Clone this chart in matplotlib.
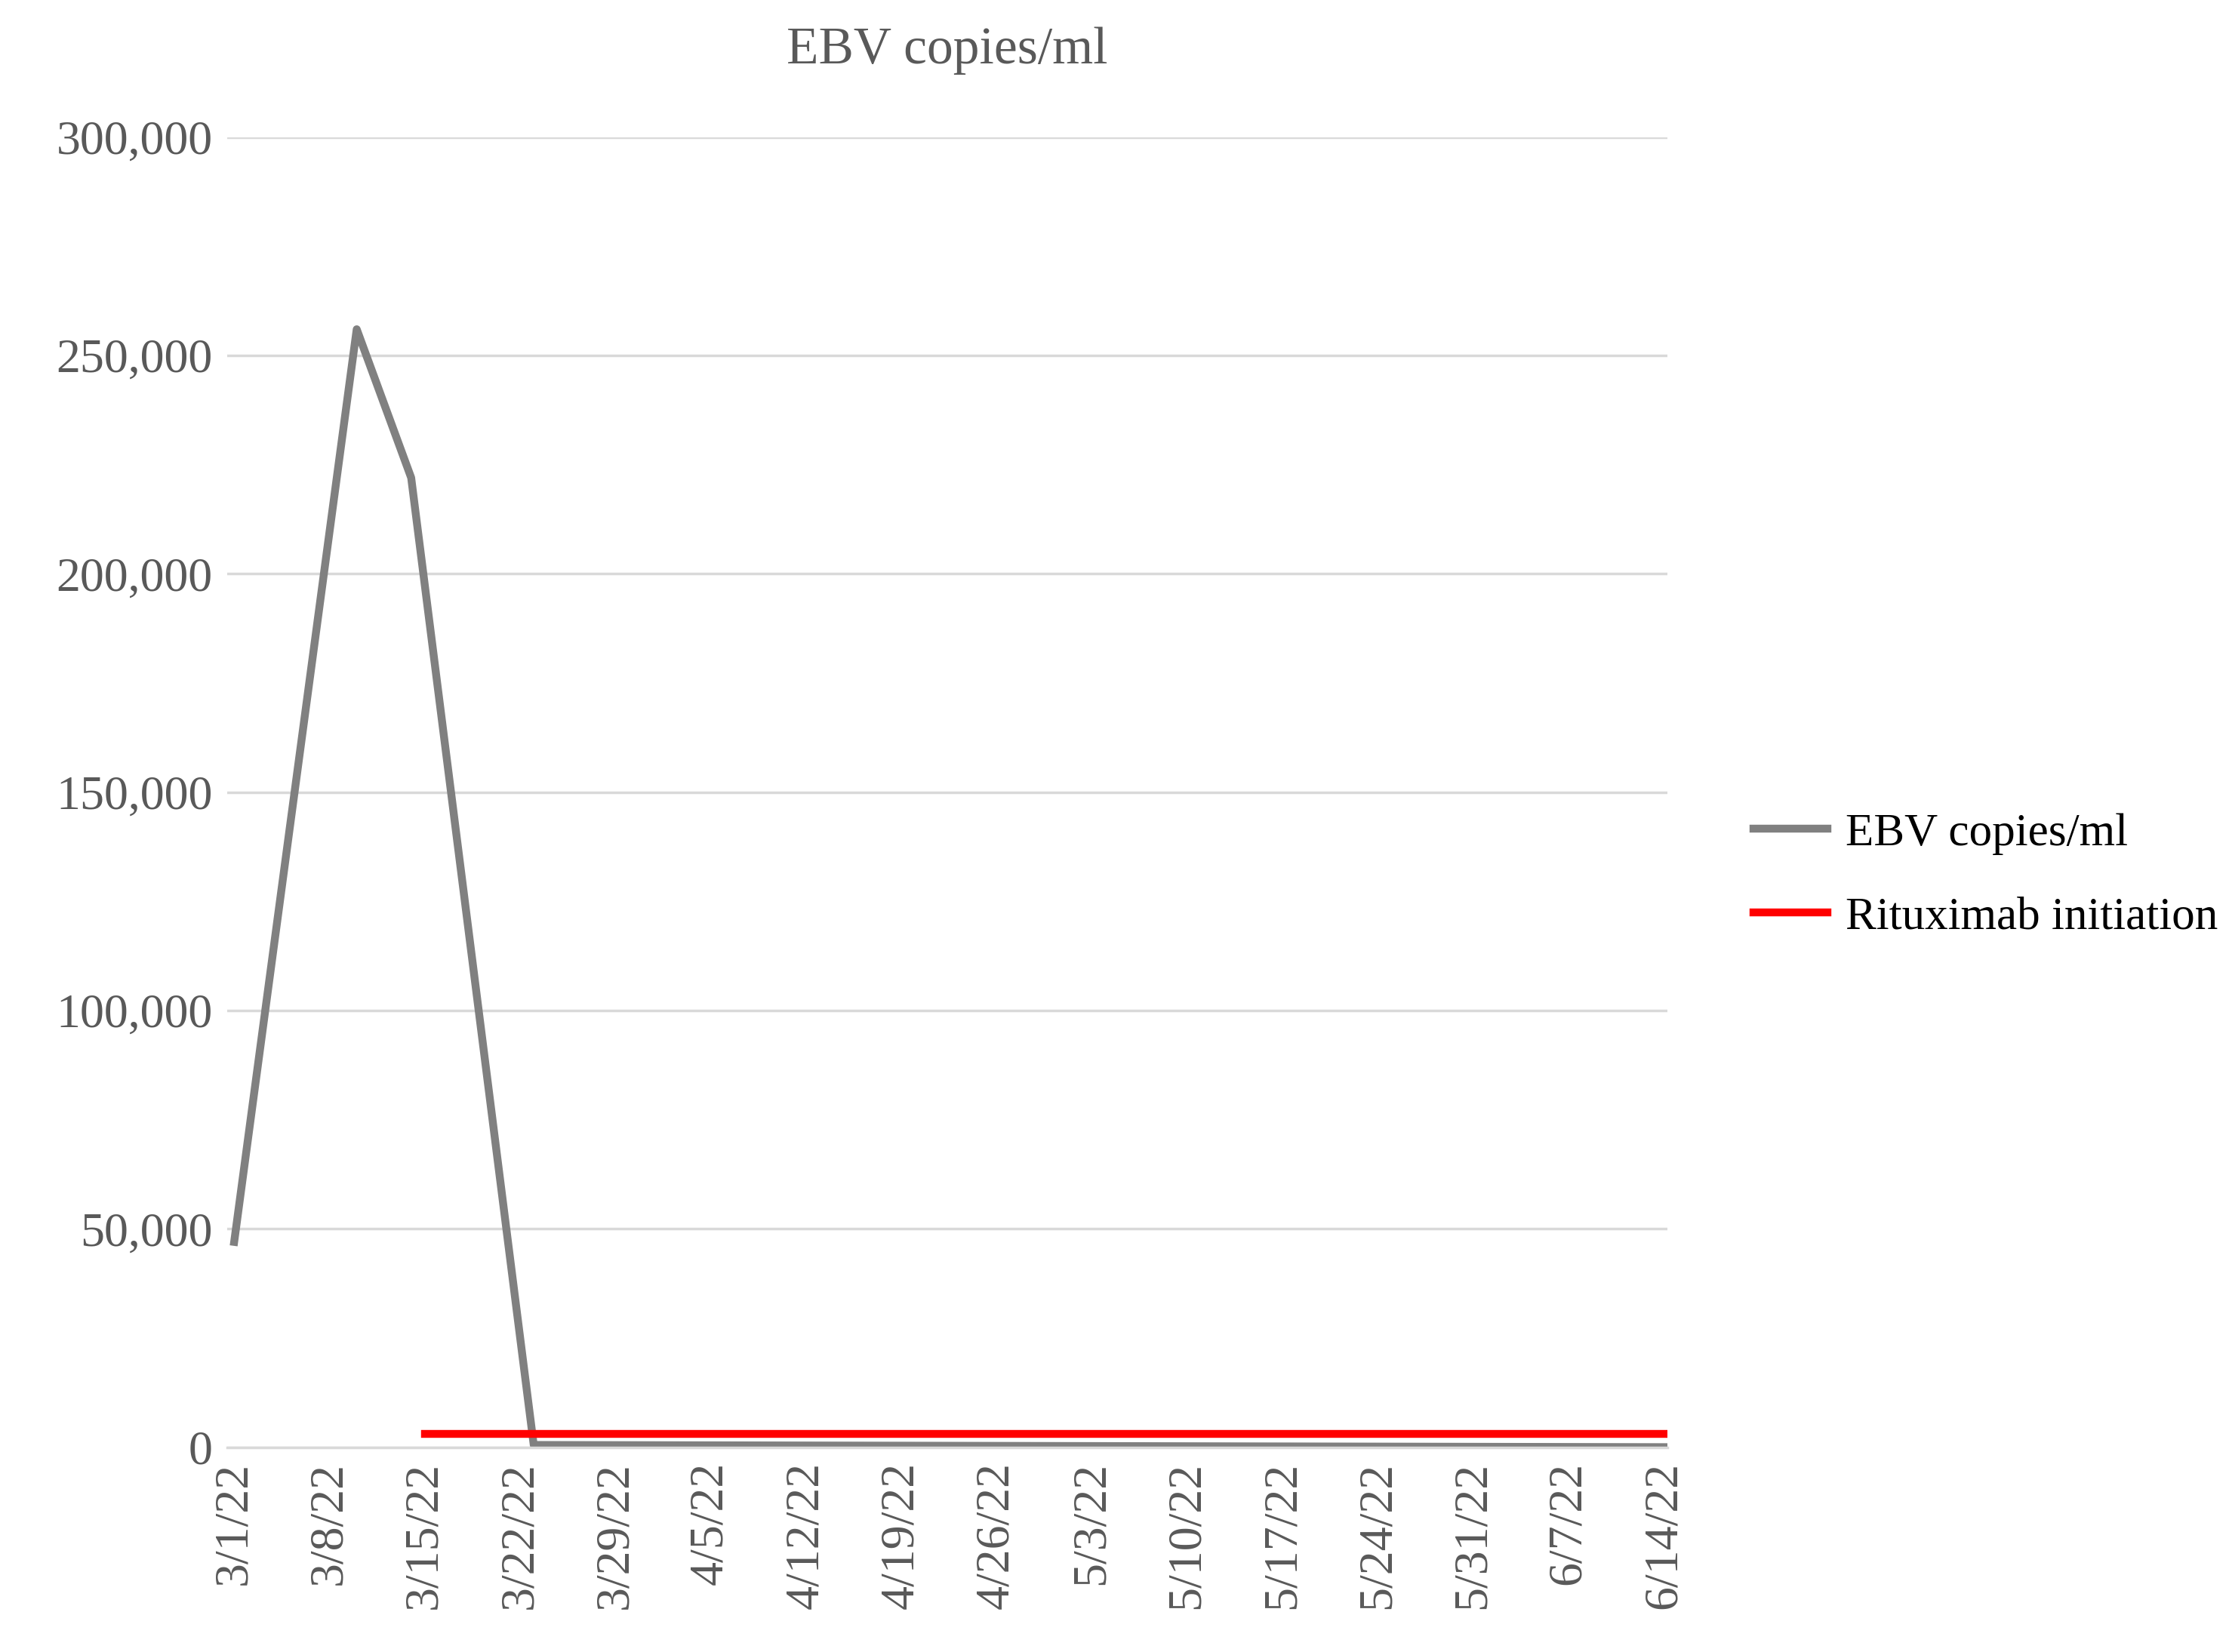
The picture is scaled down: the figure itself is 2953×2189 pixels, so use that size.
import matplotlib
matplotlib.use("Agg")
import matplotlib.pyplot as plt
import datetime as dt

ebv_dates = ["2022-03-01", "2022-03-10", "2022-03-14", "2022-03-23", "2022-06-14"]
ebv_values = [47000, 256000, 222000, 500, 0]
ritux_dates = ["2022-03-15", "2022-06-14"]
ritux_values = [3000, 3000]
tick_dates = ["2022-03-01", "2022-03-08", "2022-03-15", "2022-03-22", "2022-03-29", "2022-04-05",
              "2022-04-12", "2022-04-19", "2022-04-26", "2022-05-03", "2022-05-10", "2022-05-17",
              "2022-05-24", "2022-05-31", "2022-06-07", "2022-06-14"]
tick_labels = ["3/1/22", "3/8/22", "3/15/22", "3/22/22", "3/29/22", "4/5/22", "4/12/22", "4/19/22",
               "4/26/22", "5/3/22", "5/10/22", "5/17/22", "5/24/22", "5/31/22", "6/7/22", "6/14/22"]

P = lambda s: [dt.datetime.strptime(x, "%Y-%m-%d") for x in s]

plt.rcParams['font.family'] = ['Liberation Serif', 'DejaVu Serif']
fig = plt.figure(figsize=(29.53, 21.89), dpi=100)
ax = fig.add_axes([0.102, 0.124, 0.646, 0.793])
ax.plot(P(ebv_dates), ebv_values, color='#808080', lw=7.5, label='EBV copies/ml', solid_joinstyle='round')
ax.plot(P(ritux_dates), ritux_values, color='#ff0000', lw=7.5, label='Rituximab initiation')
ax.set_ylim(0, 300000)
ax.set_xlim(P(["2022-03-01"])[0] - dt.timedelta(hours=12), P(["2022-06-14"])[0] + dt.timedelta(hours=6))
ax.set_yticks(range(0, 300001, 50000))
ax.set_yticklabels([f"{v:,}" for v in range(0, 300001, 50000)])
ax.set_xticks(P(tick_dates))
ax.set_xticklabels(tick_labels, rotation=90)
ax.grid(axis='y', color='#d9d9d9', lw=2.5)
ax.set_axisbelow(True)
for s in ['top', 'right', 'left']:
    ax.spines[s].set_visible(False)
ax.spines['bottom'].set_color('#d9d9d9')
ax.spines['bottom'].set_linewidth(2.5)
ax.tick_params(axis='both', length=0, labelsize=46, colors='#595959', pad=14)
ax.set_title("EBV copies/ml", fontsize=50, color='#595959', pad=70)
fig.legend(loc='center left', bbox_to_anchor=(0.768, 0.47), frameon=False, fontsize=44,
           handlelength=1.6, labelspacing=0.9, handletextpad=0.4)
fig.savefig("out.png", dpi=100)
